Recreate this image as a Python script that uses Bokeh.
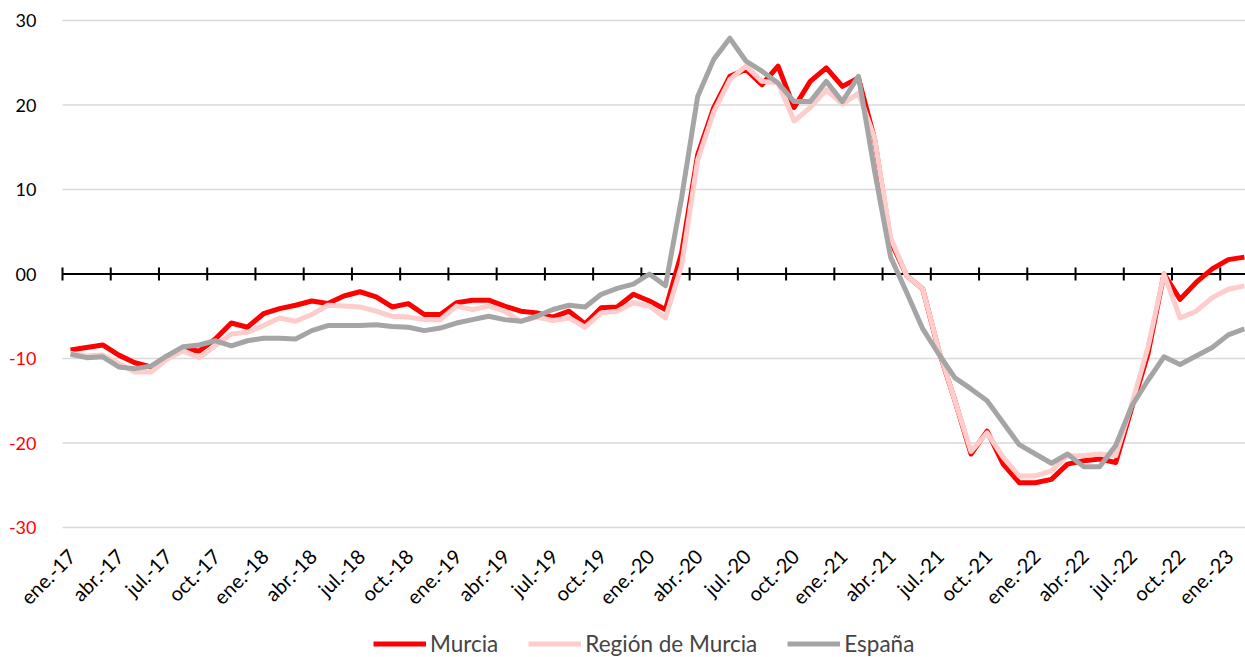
import math
from bokeh.plotting import figure
from bokeh.models import Range1d, Legend, LegendItem, ColumnDataSource
from bokeh.core.properties import value
from bokeh.embed import file_html
from bokeh.resources import INLINE

month_names = ["ene.", "feb.", "mar.", "abr.", "may.", "jun.",
               "jul.", "ago.", "sep.", "oct.", "nov.", "dic."]
months = [f"{month_names[i % 12]}-{17 + i // 12}" for i in range(74)]

murcia = [-9.0, -8.7, -8.4, -9.6, -10.5, -11.0, -9.7, -8.9, -9.1, -7.7,
          -5.8, -6.3, -4.7, -4.1, -3.7, -3.2, -3.5, -2.6, -2.1, -2.7,
          -3.9, -3.5, -4.8, -4.8, -3.4, -3.1, -3.1, -3.8, -4.4, -4.6,
          -5.1, -4.4, -5.9, -4.0, -3.9, -2.4, -3.2, -4.2, 2.5, 14.1,
          19.7, 23.4, 24.2, 22.4, 24.6, 19.7, 22.8, 24.4, 22.2, 23.2,
          16.0, 3.9, -0.2, -1.8, -9.1, -15.0, -21.3, -18.6, -22.5, -24.7,
          -24.7, -24.3, -22.5, -22.1, -21.9, -22.3, -15.8, -9.5, 0.0, -3.0,
          -1.0, 0.6, 1.7, 2.0]

region = [-9.4, -9.7, -9.6, -10.6, -11.6, -11.6, -10.1, -9.1, -9.9, -8.5,
          -7.1, -6.9, -6.1, -5.2, -5.6, -4.8, -3.7, -3.8, -3.9, -4.4,
          -5.0, -5.1, -5.4, -5.4, -3.8, -4.2, -3.8, -4.4, -5.6, -5.1,
          -5.5, -5.2, -6.3, -4.6, -4.4, -3.4, -3.8, -5.2, 1.0, 13.5,
          19.2, 23.0, 24.6, 22.8, 22.6, 18.1, 19.7, 21.8, 20.1, 21.4,
          16.1, 4.3, -0.2, -1.8, -9.0, -15.0, -21.0, -18.8, -21.7, -23.9,
          -23.9, -23.3, -21.5, -21.5, -21.3, -21.5, -15.4, -8.7, 0.0, -5.2,
          -4.4, -2.8, -1.8, -1.4]

espana = [-9.5, -9.9, -9.8, -11.0, -11.2, -10.9, -9.7, -8.6, -8.4, -7.9,
          -8.5, -7.9, -7.6, -7.6, -7.7, -6.7, -6.1, -6.1, -6.1, -6.0,
          -6.2, -6.3, -6.7, -6.4, -5.8, -5.4, -5.0, -5.4, -5.6, -5.0,
          -4.2, -3.7, -3.9, -2.4, -1.7, -1.2, 0.0, -1.4, 9.0, 21.0,
          25.4, 27.9, 25.2, 24.0, 22.6, 20.4, 20.4, 22.8, 20.4, 23.4,
          12.2, 2.0, -2.2, -6.5, -9.5, -12.3, -13.6, -15.0, -17.6, -20.2,
          -21.3, -22.4, -21.3, -22.8, -22.8, -20.3, -15.6, -12.6, -9.8, -10.7,
          -9.7, -8.7, -7.2, -6.5]

y_ticks = [-30, -20, -10, 0, 10, 20, 30]
y_labels = ["-30", "-20", "-10", "00", "10", "20", "30"]
y_label_colors = ["#ff0000", "#ff0000", "#ff0000",
                  "#000000", "#000000", "#000000", "#000000"]

# ---- layout (pixels) ----
W, H = 1245, 657
PLOT_LEFT, PLOT_TOP, PLOT_H = 62, 20, 507      # plotting area inside the canvas
N_SHOWN = 73.57                                 # months visible across the plot
FONT = "Lato"

n = len(months)
xs = [i + 0.5 for i in range(n)]                # category centres
tick_idx = list(range(0, n, 3))                 # quarter boundaries
y_min, y_max = y_ticks[0], y_ticks[-1]

px_x = (W - PLOT_LEFT) / N_SHOWN                # px per month
px_y = PLOT_H / (y_max - y_min)                 # px per unit
x_range = Range1d(-PLOT_LEFT / px_x, N_SHOWN)
y_range = Range1d(y_max - (H - PLOT_TOP) / px_y, y_max + PLOT_TOP / px_y)

p = figure(frame_width=W, frame_height=H, x_range=x_range, y_range=y_range,
           x_axis_type=None, y_axis_type=None,
           output_backend="svg", toolbar_location=None,
           min_border=0)
p.outline_line_color = None
p.background_fill_color = "white"
p.border_fill_color = "white"

# horizontal gridlines
p.segment(x0=0, x1=N_SHOWN, y0=y_ticks, y1=y_ticks,
          line_color="#d9d9d9", line_width=1.5)

# value labels (positives black, negatives red)
ysrc = ColumnDataSource(dict(x=[0] * len(y_ticks), y=y_ticks,
                             text=y_labels, color=y_label_colors))
p.text(x="x", y="y", text="text", text_color="color", source=ysrc,
       x_offset=-26, text_align="right", text_baseline="middle",
       text_font=value(FONT), text_font_size="18px")

# category axis: zero line with crossing ticks, labels under the plot
p.segment(x0=0, x1=N_SHOWN, y0=0, y1=0, line_color="black", line_width=2)
p.scatter(x=tick_idx, y=[0] * len(tick_idx), marker="dash", angle=math.pi / 2,
          size=13, line_color="black", line_width=2)

lab_y = y_min - 25 / px_y
xsrc = ColumnDataSource(dict(x=[xs[i] for i in tick_idx],
                             y=[lab_y] * len(tick_idx),
                             text=[months[i] for i in tick_idx]))
p.text(x="x", y="y", text="text", source=xsrc, angle=math.pi / 4,
       x_offset=1, text_align="right", text_baseline="middle",
       text_font=value(FONT), text_font_size="20px", text_color="#000000")

# series
r1 = p.line(xs, murcia, line_color="#ff0000", line_width=5, line_join="round")
r2 = p.line(xs, region, line_color="#ffcccc", line_width=5, line_join="round")
r3 = p.line(xs, espana, line_color="#a5a5a5", line_width=5, line_join="round")

legend = Legend(items=[LegendItem(label="Murcia", renderers=[r1]),
                       LegendItem(label="Región de Murcia", renderers=[r2]),
                       LegendItem(label="España", renderers=[r3])],
                orientation="horizontal", location=(373, 0),
                label_text_font=FONT, label_text_font_size="22.5px",
                label_height=21, glyph_height=21,
                glyph_width=53, label_standoff=4,
                spacing=30, padding=0, margin=0,
                border_line_color=None, background_fill_alpha=0)
p.add_layout(legend, "center")

open("out.html", "w").write(file_html(p, INLINE))
